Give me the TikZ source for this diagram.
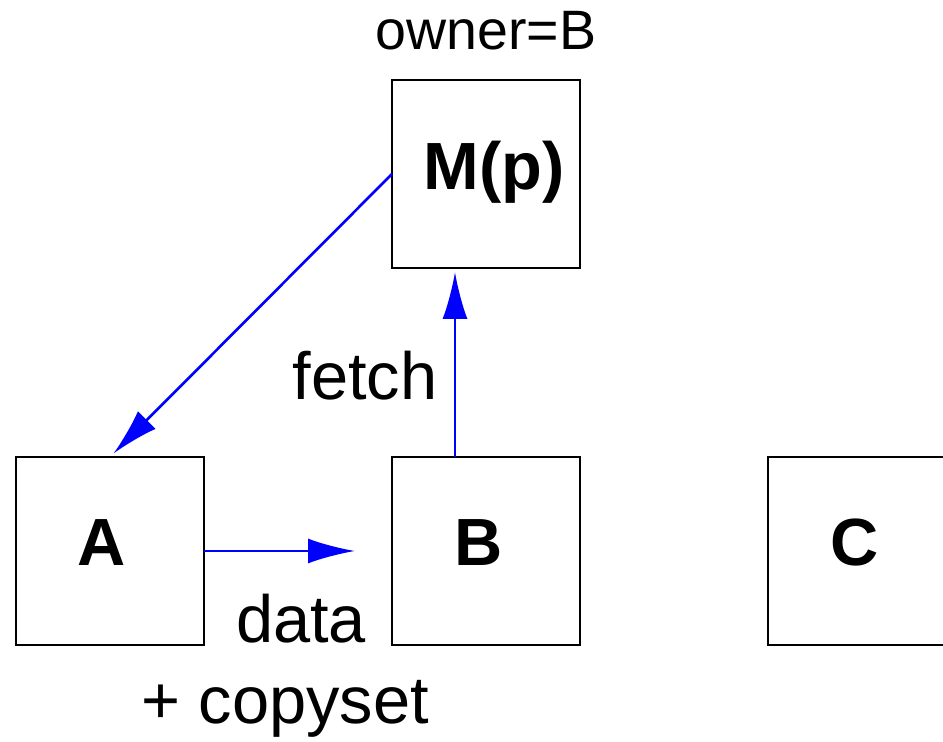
\documentclass[tikz,border=0pt]{standalone}
\usepackage{fontspec}
\setmainfont{Liberation Sans}
\usetikzlibrary{positioning}
\usetikzlibrary{arrows.meta}

\begin{document}
\begin{tikzpicture}[
        box/.style = {
            draw,
            rectangle,
            line width = 0.75pt,
            minimum size = 1.88cm,
            inner sep = 0pt,
            outer sep = 0pt
        },
        lbl/.style = {
            font = \fontsize{19}{23}\selectfont\bfseries,
            inner sep = 0pt
        },
        tag/.style = {
            font = \fontsize{19}{23.3}\selectfont,
            inner sep = 0pt
        },
        msg/.style = {
            draw = blue,
            line width = 0.75pt,
            -{Latex[length=4.7mm, width=2.5mm]}
        },
        node distance = {1.88cm}
            ]
            \useasboundingbox (0,0) rectangle (9.43,-7.42);

            \node[box, label={[lbl, xshift=-0.08cm, yshift=0.08cm]center:A}] (A) at (1.10,-5.51) {};
            \node[box, label={[lbl, xshift=-0.07cm, yshift=0.08cm]center:B}, right=of A] (B) {};
            \node[box, label={[lbl, xshift=-0.07cm, yshift=0.08cm]center:C}, right=of B] (C) {};
            \node[box, label={[lbl, xshift=0.08cm, yshift=0.02cm]center:M(p)}, above=1.89cm of B] (M) {};

            \node[tag, font=\fontsize{15.8}{19}\selectfont, anchor=base] (owner) at ([yshift=0.30cm]M.north) {owner=B};

            \draw[msg, shorten >=0.05cm] (M.west) -- (A.north);
            \draw[msg, shorten >=0.04cm] ([xshift=-0.31cm]B.north) -- ([xshift=-0.31cm]M.south);
            \draw[msg, shorten >=0.37cm] (A.east) -- (B.west);

            \node[tag, anchor=base east] (fetch) at ([shift={(-0.48,0.57)}]B.north) {fetch};
            \node[tag, anchor=north, align=center] (data) at ([shift={(0.81,-0.42)}]A.east) {\hspace*{0.32cm}data\\+ copyset};

        \end{tikzpicture}
\end{document}
